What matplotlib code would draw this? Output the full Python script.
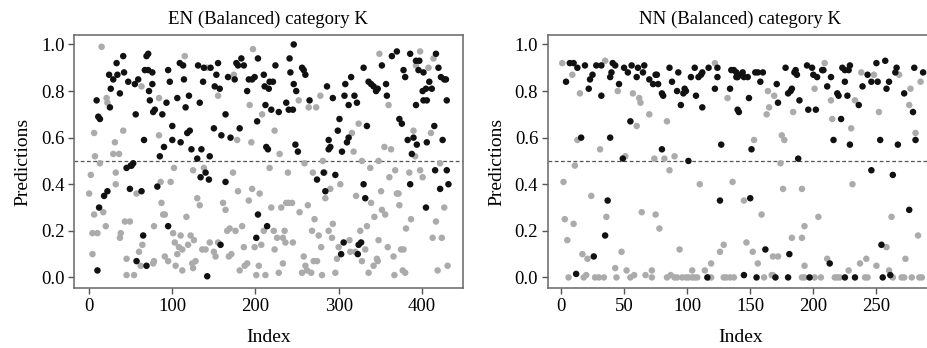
import numpy as np
import matplotlib.pyplot as plt

plt.rcParams['font.family'] = ['Liberation Serif', 'DejaVu Serif']

# EN (Balanced) - black points
en_black_x = [9, 10, 12, 11, 13, 18, 22, 24, 25, 26, 29, 33, 34, 37, 41, 42, 45, 47, 49, 50, 51, 53,
              55, 56, 57, 59, 63, 65, 66, 67, 69, 71, 69, 71, 72, 73, 76, 76, 77, 79, 82, 85, 88, 90,
              93, 95, 95, 97, 100, 100, 106, 110, 109, 113, 114, 116, 118, 120, 121, 123, 130, 131,
              133, 134, 135, 137, 138, 140, 142, 144, 145, 146, 150, 151, 153, 155, 157, 158, 159,
              164, 164, 167, 170, 175, 177, 179, 181, 183, 186, 190, 192, 196, 199, 201, 202, 203,
              203, 210, 211, 212, 213, 214, 215, 216, 217, 219, 221, 224, 228, 237, 240, 241, 242,
              245, 246, 246, 248, 249, 251, 256, 258, 260, 265, 274, 282, 284, 286, 288, 288, 290,
              293, 296, 299, 301, 303, 304, 306, 307, 308, 310, 312, 312, 315, 319, 322, 323, 324,
              327, 330, 330, 332, 334, 336, 339, 342, 345, 347, 352, 357, 358, 364, 370, 373, 376,
              378, 380, 383, 386, 386, 388, 390, 393, 393, 394, 396, 397, 401, 402, 405, 402, 406,
              405, 406, 409, 412, 415, 416, 417, 420, 422, 423, 427, 429, 425, 430, 430, 432]
en_black_y = [0.76, 0.03, 0.30, 0.69, 0.68, 0.35, 0.37, 0.87, 0.73, 0.81, 0.85, 0.92, 0.87, 0.79,
              0.95, 0.88, 0.47, 0.84, 0.38, 0.48, 0.48, 0.49, 0.83, 0.70, 0.07, 0.85, 0.37, 0.18,
              0.59, 0.89, 0.95, 0.96, 0.05, 0.89, 0.80, 0.76, 0.88, 0.83, 0.71, 0.72, 0.39, 0.52,
              0.70, 0.56, 0.75, 0.89, 0.22, 0.84, 0.65, 0.59, 0.77, 0.58, 0.92, 0.91, 0.85, 0.73,
              0.62, 0.78, 0.63, 0.55, 0.51, 0.91, 0.75, 0.43, 0.55, 0.84, 0.90, 0.45, 0.005, 0.42,
              0.52, 0.90, 0.64, 0.82, 0.87, 0.92, 0.81, 0.14, 0.61, 0.41, 0.70, 0.86, 0.60, 0.85,
              0.92, 0.91, 0.64, 0.94, 0.91, 0.80, 0.85, 0.85, 0.86, 0.17, 0.67, 0.27, 0.94, 0.87,
              0.82, 0.74, 0.56, 0.22, 0.55, 0.81, 0.84, 0.72, 0.84, 0.91, 0.71, 0.75, 0.72, 0.94,
              0.88, 0.72, 1.00, 0.83, 0.57, 0.80, 0.54, 0.90, 0.89, 0.87, 0.76, 0.42, 0.45, 0.37,
              0.82, 0.55, 0.59, 0.56, 0.77, 0.44, 0.63, 0.68, 0.10, 0.54, 0.15, 0.78, 0.83, 0.58,
              0.60, 0.74, 0.86, 0.78, 0.75, 0.10, 0.14, 0.15, 0.40, 0.90, 0.34, 0.65, 0.84, 0.83,
              0.82, 0.80, 0.81, 0.91, 0.83, 0.78, 0.95, 0.97, 0.68, 0.66, 0.89, 0.86, 0.59, 0.96,
              0.40, 0.53, 0.60, 0.93, 0.74, 0.57, 0.89, 0.93, 0.80, 0.88, 0.81, 0.76, 0.76, 0.30,
              0.58, 0.84, 0.81, 0.65, 0.46, 0.96, 0.90, 0.38, 0.86, 0.85, 0.85, 0.59, 0.76, 0.46,
              0.40]
en_black_x = en_black_x[:len(en_black_y)]

# EN (Balanced) - grey points
en_grey_x = [0, 2, 4, 4, 6, 6, 7, 10, 13, 15, 17, 20, 21, 22, 29, 31, 32, 32, 36, 37, 38, 41, 43,
             45, 45, 49, 54, 57, 60, 62, 63, 64, 77, 78, 78, 84, 84, 86, 87, 89, 91, 91, 95, 98,
             101, 102, 103, 104, 106, 108, 110, 112, 112, 115, 117, 119, 122, 124, 125, 125, 126,
             128, 130, 133, 136, 138, 140, 142, 145, 150, 152, 155, 155, 161, 164, 166, 168, 169,
             171, 173, 174, 176, 178, 179, 181, 184, 186, 187, 190, 192, 193, 195, 196, 197, 199,
             201, 204, 205, 207, 208, 210, 212, 217, 219, 222, 223, 223, 226, 228, 229, 231, 233,
             233, 235, 236, 237, 239, 240, 244, 245, 252, 253, 256, 258, 259, 260, 262, 263, 264,
             267, 268, 269, 270, 271, 273, 274, 276, 278, 279, 280, 281, 283, 284, 288, 290, 292,
             293, 296, 298, 300, 302, 313, 314, 316, 318, 320, 321, 324, 326, 328, 328, 332, 334,
             336, 338, 339, 342, 343, 346, 347, 348, 348, 349, 351, 352, 355, 356, 359, 360, 361,
             363, 366, 367, 368, 370, 372, 373, 375, 378, 377, 380, 381, 385, 387, 390, 392, 393,
             398, 398, 401, 408, 411, 413, 414, 417, 419, 422, 424, 427, 431]
en_grey_y = [0.36, 0.44, 0.10, 0.19, 0.62, 0.27, 0.52, 0.19, 0.49, 0.99, 0.28, 0.22, 0.77, 0.75,
             0.53, 0.58, 0.45, 0.40, 0.53, 0.17, 0.19, 0.63, 0.24, 0.01, 0.08, 0.24, 0.01, 0.36,
             0.11, 0.05, 0.82, 0.14, 0.06, 0.07, 0.22, 0.61, 0.77, 0.41, 0.32, 0.27, 0.27, 0.09,
             0.07, 0.41, 0.19, 0.47, 0.15, 0.05, 0.10, 0.13, 0.18, 0.12, 0.03, 0.95, 0.26, 0.14,
             0.18, 0.06, 0.04, 0.46, 0.16, 0.07, 0.34, 0.31, 0.12, 0.47, 0.12, 0.90, 0.15, 0.11,
             0.09, 0.78, 0.15, 0.32, 0.29, 0.20, 0.09, 0.21, 0.10, 0.45, 0.87, 0.20, 0.59, 0.37,
             0.03, 0.22, 0.13, 0.05, 0.06, 0.33, 0.74, 0.58, 0.38, 0.98, 0.13, 0.01, 0.05, 0.36,
             0.14, 0.70, 0.20, 0.01, 0.47, 0.30, 0.20, 0.12, 0.63, 0.17, 0.02, 0.53, 0.30, 0.17,
             0.06, 0.20, 0.15, 0.32, 0.45, 0.32, 0.32, 0.15, 0.76, 0.28, 0.02, 0.09, 0.49, 0.05,
             0.03, 0.31, 0.73, 0.02, 0.20, 0.45, 0.07, 0.25, 0.73, 0.07, 0.18, 0.78, 0.13, 0.01,
             0.50, 0.45, 0.34, 0.20, 0.38, 0.17, 0.23, 0.02, 0.08, 0.13, 0.40, 0.16, 0.11, 0.62,
             0.54, 0.11, 0.35, 0.66, 0.20, 0.07, 0.50, 0.12, 0.22, 0.02, 0.47, 0.32, 0.05, 0.26,
             0.08, 0.07, 0.16, 0.50, 0.96, 0.37, 0.29, 0.56, 0.27, 0.13, 0.74, 0.43, 0.55, 0.09,
             0.01, 0.46, 0.36, 0.36, 0.31, 0.12, 0.12, 0.03, 0.02, 0.21, 0.45, 0.25, 0.63, 0.52,
             0.91, 0.97, 0.46, 0.43, 0.90, 0.62, 0.17, 0.94, 0.24, 0.03, 0.49, 0.17, 0.30, 0.05]

# NN (Balanced) - black points
nn_black_x = [4, 7, 10, 12, 13, 16, 19, 22, 23, 25, 26, 28, 32, 32, 35, 37, 39, 39, 40, 41, 43,
              46, 49, 50, 53, 55, 56, 60, 61, 65, 66, 70, 75, 76, 73, 77, 80, 80, 81, 86, 88, 92,
              93, 95, 97, 98, 99, 101, 103, 106, 107, 109, 111, 112, 112, 116, 117, 122, 124, 124,
              126, 127, 134, 135, 137, 139, 139, 140, 140, 141, 143, 144, 145, 145, 148, 149, 150,
              151, 154, 155, 156, 160, 158, 162, 170, 171, 172, 178, 180, 182, 183, 180, 181, 185,
              186, 187, 188, 189, 195, 196, 197, 199, 200, 202, 203, 207, 208, 211, 213, 214, 216,
              219, 220, 222, 223, 225, 225, 225, 227, 228, 229, 229, 233, 236, 239, 243, 246, 246,
              250, 251, 253, 254, 255, 257, 258, 260, 261, 263, 265, 266, 267, 272, 276, 279, 280,
              281, 287]
nn_black_y = [0.84, 0.92, 0.92, 0.015, 0.90, 0.60, 0.91, 0.81, 0.85, 0.87, 0.09, 0.91, 0.91, 0.78,
              0.18, 0.33, 0.86, 0.60, 0.88, 0.92, 0.91, 0.83, 0.51, 0.90, 0.88, 0.67, 0.91, 0.86,
              0.90, 0.88, 0.91, 0.85, 0.87, 0.87, 0.83, 0.83, 0.55, 0.79, 0.78, 0.90, 0.84, 0.80,
              0.88, 0.74, 0.79, 0.81, 0.80, 0.50, 0.86, 0.90, 0.78, 0.86, 0.87, 0.88, 0.73, 0.00,
              0.90, 0.81, 0.86, 0.90, 0.33, 0.57, 0.81, 0.89, 0.89, 0.88, 0.86, 0.86, 0.72, 0.71,
              0.87, 0.88, 0.86, 0.01, 0.86, 0.77, 0.34, 0.55, 0.88, 0.00, 0.88, 0.88, 0.84, 0.12,
              0.00, 0.83, 0.75, 0.90, 0.79, 0.80, 0.81, 0.00, 0.10, 0.88, 0.89, 0.87, 0.51, 0.76,
              0.91, 0.72, 0.00, 0.90, 0.87, 0.72, 0.86, 0.89, 0.89, 0.82, 0.06, 0.86, 0.59, 0.79,
              0.78, 0.68, 0.90, 0.89, 0.84, 0.00, 0.78, 0.89, 0.91, 0.57, 0.00, 0.74, 0.82, 0.87,
              0.46, 0.84, 0.92, 0.84, 0.59, 0.14, 0.00, 0.93, 0.81, 0.84, 0.01, 0.44, 0.88, 0.90,
              0.57, 0.79, 0.29, 0.71, 0.90, 0.59, 0.88]

# NN (Balanced) - grey points
nn_grey_x = [1, 2, 3, 5, 6, 9, 10, 11, 13, 15, 17, 18, 20, 21, 24, 27, 30, 34, 31, 35, 36, 43, 44,
             45, 48, 51, 52, 55, 57, 58, 60, 62, 63, 64, 67, 70, 72, 72, 74, 75, 78, 82, 84, 84,
             87, 86, 90, 90, 92, 94, 96, 99, 101, 104, 106, 108, 104, 110, 114, 117, 119, 119, 122,
             126, 129, 131, 134, 137, 129, 132, 136, 145, 147, 152, 153, 156, 159, 161, 163, 164,
             165, 167, 168, 168, 172, 169, 174, 175, 177, 176, 183, 184, 191, 191, 193, 193, 191,
             193, 201, 201, 206, 204, 209, 211, 214, 215, 217, 219, 221, 228, 230, 231, 233, 237,
             238, 241, 242, 243, 248, 250, 252, 258, 260, 262, 263, 270, 272, 268, 273, 276, 277,
             278, 284, 286, 281, 283, 285]
nn_grey_y = [0.92, 0.41, 0.25, 0.16, 0.00, 0.87, 0.23, 0.48, 0.59, 0.79, 0.10, 0.00, 0.01, 0.08,
             0.35, 0.00, 0.00, 0.00, 0.55, 0.93, 0.26, 0.04, 0.00, 0.80, 0.11, 0.52, 0.03, 0.00,
             0.79, 0.01, 0.65, 0.77, 0.75, 0.28, 0.01, 0.70, 0.00, 0.03, 0.51, 0.27, 0.21, 0.51,
             0.67, 0.00, 0.01, 0.46, 0.52, 0.00, 0.00, 0.12, 0.00, 0.00, 0.00, 0.00, 0.00, 0.00,
             0.03, 0.40, 0.03, 0.00, 0.00, 0.06, 0.92, 0.11, 0.00, 0.00, 0.00, 0.00, 0.14, 0.77,
             0.41, 0.33, 0.15, 0.11, 0.59, 0.06, 0.27, 0.00, 0.70, 0.80, 0.73, 0.01, 0.01, 0.09,
             0.09, 0.78, 0.49, 0.61, 0.59, 0.38, 0.17, 0.71, 0.17, 0.38, 0.22, 0.05, 0.00, 0.00,
             0.81, 0.00, 0.00, 0.26, 0.92, 0.08, 0.76, 0.68, 0.00, 0.00, 0.00, 0.03, 0.64, 0.40,
             0.76, 0.06, 0.88, 0.00, 0.08, 0.00, 0.87, 0.05, 0.71, 0.13, 0.03, 0.26, 0.00, 0.00,
             0.00, 0.87, 0.08, 0.74, 0.81, 0.00, 0.00, 0.00, 0.62, 0.18, 0.84]

panels = [
    ("EN (Balanced) category K", en_grey_x, en_grey_y, en_black_x, en_black_y,
     [0.080, 0.172, 0.419, 0.727], (-18, 449), [0, 100, 200, 300, 400]),
    ("NN (Balanced) category K", nn_grey_x, nn_grey_y, nn_black_x, nn_black_y,
     [0.591, 0.172, 0.415, 0.727], (-10.4, 294.5), [0, 50, 100, 150, 200, 250]),
]

fig = plt.figure(figsize=(9.27, 3.48), dpi=100)

for title, gx, gy, bx, by, rect, xlim, xticks in panels:
    ax = fig.add_axes(rect)
    ax.scatter(gx, gy, s=22, color='#ababab', edgecolors='none', zorder=2)
    ax.scatter(bx, by, s=22, color='#111111', edgecolors='none', zorder=3)
    ax.axhline(0.5, color='#555555', linestyle=(0, (3, 2)), linewidth=0.9, zorder=1)
    ax.set_xlim(*xlim)
    ax.set_ylim(-0.046, 1.04)
    ax.set_xticks(xticks)
    ax.set_yticks([0.0, 0.2, 0.4, 0.6, 0.8, 1.0])
    ax.set_yticklabels(['0.0', '0.2', '0.4', '0.6', '0.8', '1.0'])
    ax.tick_params(labelsize=13.5, length=4, width=1, color='#555555', pad=3)
    for sp in ax.spines.values():
        sp.set_color('#666666')
        sp.set_linewidth(1.1)
    ax.set_title(title, fontsize=13.5, pad=8)
    ax.set_xlabel("Index", fontsize=14, labelpad=10)
    ax.set_ylabel("Predictions", fontsize=14, labelpad=7)

fig.savefig("out.png", dpi=100)
